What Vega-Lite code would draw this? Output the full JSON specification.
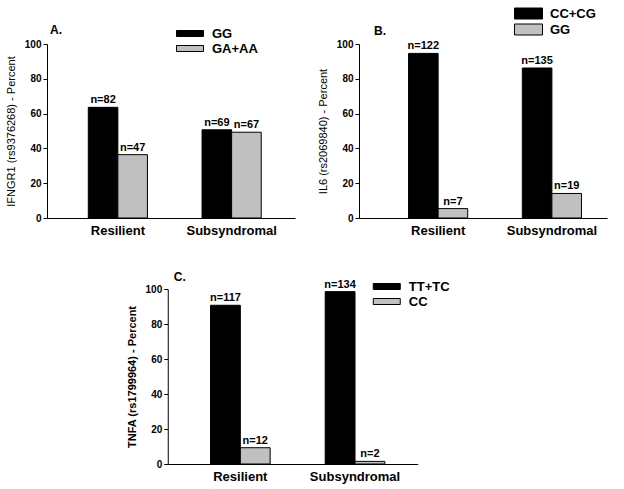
{
  "$schema": "https://vega.github.io/schema/vega-lite/v6.json",
  "background": "white",
  "padding": {"left": 5, "top": 7, "right": 5, "bottom": 5},
  "datasets": {
    "d": [
      {"panel": "A", "group": "Resilient", "genotype": "GG", "percent": 63.6, "label": "n=82"},
      {"panel": "A", "group": "Resilient", "genotype": "GA+AA", "percent": 36.4, "label": "n=47"},
      {"panel": "A", "group": "Subsyndromal", "genotype": "GG", "percent": 50.7, "label": "n=69"},
      {"panel": "A", "group": "Subsyndromal", "genotype": "GA+AA", "percent": 49.3, "label": "n=67"},
      {"panel": "B", "group": "Resilient", "genotype": "CC+CG", "percent": 94.6, "label": "n=122"},
      {"panel": "B", "group": "Resilient", "genotype": "GG", "percent": 5.4, "label": "n=7"},
      {"panel": "B", "group": "Subsyndromal", "genotype": "CC+CG", "percent": 86.2, "label": "n=135"},
      {"panel": "B", "group": "Subsyndromal", "genotype": "GG", "percent": 14.1, "label": "n=19"},
      {"panel": "C", "group": "Resilient", "genotype": "TT+TC", "percent": 90.7, "label": "n=117"},
      {"panel": "C", "group": "Resilient", "genotype": "CC", "percent": 9.3, "label": "n=12"},
      {"panel": "C", "group": "Subsyndromal", "genotype": "TT+TC", "percent": 98.5, "label": "n=134"},
      {"panel": "C", "group": "Subsyndromal", "genotype": "CC", "percent": 1.5, "label": "n=2"}
    ]
  },
  "spacing": 7,
  "center": true,
  "resolve": {"scale": {"color": "independent", "x": "independent", "y": "independent", "xOffset": "independent"}},
  "vconcat": [
    {
      "spacing": 22,
      "resolve": {"scale": {"color": "independent", "x": "independent", "y": "independent", "xOffset": "independent"}},
      "hconcat": [
        {
          "width": 248, "height": 174,
          "title": {"text": "A.", "anchor": "start", "frame": "group", "dx": 3, "offset": 0, "dy": 10},
          "data": {"name": "d"},
          "transform": [{"filter": "datum.panel === 'A'"}],
          "encoding": {
            "x": {"field": "group", "type": "nominal", "sort": ["Resilient", "Subsyndromal"], "scale": {"paddingInner": 0.48, "paddingOuter": 0.33, "align": 0.55}, "axis": {"title": null}},
            "xOffset": {"field": "genotype", "type": "nominal", "sort": ["GG", "GA+AA"], "scale": {"domain": ["GG", "GA+AA"], "paddingInner": 0}},
            "y": {"field": "percent", "type": "quantitative", "scale": {"domain": [0, 100]}, "axis": {"title": "IFNGR1 (rs9376268) - Percent", "values": [0, 20, 40, 60, 80, 100]}}
          },
          "layer": [
            {
              "mark": {"type": "bar", "stroke": "black", "strokeWidth": 1},
              "encoding": {
                "color": {"field": "genotype", "type": "nominal", "scale": {"domain": ["GG", "GA+AA"], "range": ["#000000", "#c0c0c0"]},
                  "legend": {"title": null, "orient": "none", "legendX": 136.5, "legendY": -17, "symbolType": "M-2.7,-0.6H2.7V0.6H-2.7Z", "symbolSize": 100, "labelOffset": 15.5, "labelFontWeight": "bold"}}
              }
            },
            {"mark": {"type": "text", "dy": -7, "fontWeight": "bold", "fontSize": 11}, "encoding": {"text": {"field": "label"}}}
          ]
        },
        {
          "width": 248, "height": 174,
          "title": {"text": "B.", "anchor": "start", "frame": "group", "dx": 15, "offset": 0, "dy": 31},
          "data": {"name": "d"},
          "transform": [{"filter": "datum.panel === 'B'"}],
          "encoding": {
            "x": {"field": "group", "type": "nominal", "sort": ["Resilient", "Subsyndromal"], "scale": {"paddingInner": 0.48, "paddingOuter": 0.33, "align": 0.66}, "axis": {"title": null}},
            "xOffset": {"field": "genotype", "type": "nominal", "sort": ["CC+CG", "GG"], "scale": {"domain": ["CC+CG", "GG"], "paddingInner": 0}},
            "y": {"field": "percent", "type": "quantitative", "scale": {"domain": [0, 100]}, "axis": {"title": "IL6 (rs2069840) - Percent", "values": [0, 20, 40, 60, 80, 100]}}
          },
          "layer": [
            {
              "mark": {"type": "bar", "stroke": "black", "strokeWidth": 1},
              "encoding": {
                "color": {"field": "genotype", "type": "nominal", "scale": {"domain": ["CC+CG", "GG"], "range": ["#000000", "#c0c0c0"]},
                  "legend": {"title": null, "orient": "none", "legendX": 163, "legendY": -37, "symbolType": "M-2.8,-1.1H2.8V1.1H-2.8Z", "symbolSize": 100, "labelOffset": 15, "labelFontWeight": "bold"}}
              }
            },
            {"mark": {"type": "text", "dy": -7, "fontWeight": "bold", "fontSize": 11}, "encoding": {"text": {"field": "label"}}}
          ]
        }
      ]
    },
    {
      "width": 250, "height": 175,
      "title": {"text": "C.", "anchor": "start", "frame": "group", "dx": 6, "offset": 0, "dy": 40},
      "data": {"name": "d"},
      "transform": [{"filter": "datum.panel === 'C'"}],
      "encoding": {
        "x": {"field": "group", "type": "nominal", "sort": ["Resilient", "Subsyndromal"], "scale": {"paddingInner": 0.48, "paddingOuter": 0.33, "align": 0.565}, "axis": {"title": null}},
        "xOffset": {"field": "genotype", "type": "nominal", "sort": ["TT+TC", "CC"], "scale": {"domain": ["TT+TC", "CC"], "paddingInner": 0}},
        "y": {"field": "percent", "type": "quantitative", "scale": {"domain": [0, 100]}, "axis": {"title": "TNFA (rs1799964) - Percent", "titleFontWeight": "bold", "values": [0, 20, 40, 60, 80, 100]}}
      },
      "layer": [
        {
          "mark": {"type": "bar", "stroke": "black", "strokeWidth": 1},
          "encoding": {
            "color": {"field": "genotype", "type": "nominal", "scale": {"domain": ["TT+TC", "CC"], "range": ["#000000", "#c0c0c0"]},
              "legend": {"title": null, "orient": "none", "legendX": 176.5, "legendY": -45, "padding": 36, "symbolType": "M-2.7,-0.6H2.7V0.6H-2.7Z", "symbolSize": 100, "labelOffset": 15.5, "labelFontWeight": "bold"}}
          }
        },
        {"mark": {"type": "text", "dy": -7, "fontWeight": "bold", "fontSize": 11}, "encoding": {"text": {"field": "label"}}}
      ]
    }
  ],
  "config": {
    "font": "Liberation Sans",
    "view": {"stroke": null},
    "title": {"fontSize": 12, "fontWeight": "bold", "color": "black"},
    "axis": {"domainColor": "black", "tickColor": "black", "labelColor": "black", "titleColor": "black", "grid": false},
    "axisX": {"ticks": false, "labelAngle": 0, "labelFontSize": 13, "labelFontWeight": "bold", "labelPadding": 6},
    "axisY": {"tickSize": 4, "labelFontSize": 10, "labelFontWeight": "bold", "labelPadding": 2, "titleFontSize": 11, "titleFontWeight": "normal", "titlePadding": 8},
    "legend": {"labelFontSize": 13, "labelColor": "black", "symbolStrokeColor": "black", "symbolStrokeWidth": 1, "rowPadding": 1, "padding": 0}
  }
}
